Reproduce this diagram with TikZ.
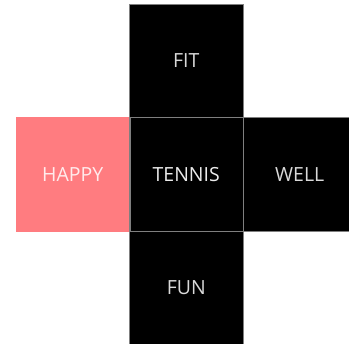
\documentclass[tikz,border=0pt]{standalone}
\usepackage{fontspec}
\setmainfont{Open Sans}
\definecolor{salmon}{HTML}{FF7C80}
\definecolor{lbl}{HTML}{D9D9D9}
\definecolor{edge}{HTML}{7F7F7F}
\begin{document}
\begin{tikzpicture}[x=1pt,y=-1pt,
  tile/.style={draw=edge,line width=0.8pt,fill=black,minimum size=113.5pt,inner sep=0pt,
    text=lbl,font=\fontsize{19.5}{21}\selectfont},
]
\useasboundingbox[fill=white] (0,0) rectangle (349,344);
\node[tile] (fit) at (186.25,60.75) {FIT};
\node[tile,draw=salmon,fill=salmon,text=white!85!salmon] (happy) at (72.75,174.25) {HAPPY};
\node[tile,text=white!92!black] (tennis) at (186.25,174.25) {TENNIS};
\node[tile] (well) at (299.75,174.25) {WELL};
\node[tile] (fun) at (186.25,287.75) {FUN};
\draw[edge,line width=0.8pt] (happy.north east) -- (happy.south east);
\end{tikzpicture}
\end{document}
